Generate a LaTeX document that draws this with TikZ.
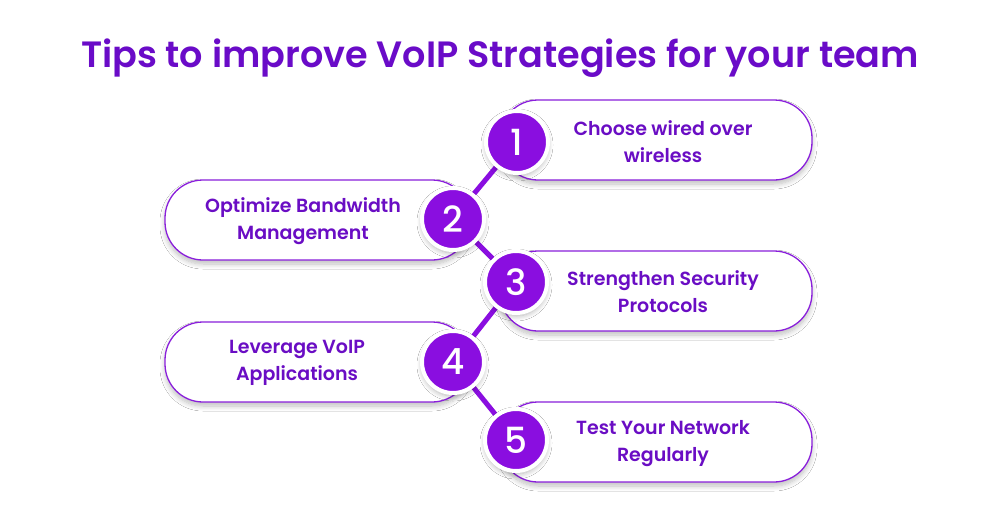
\documentclass[tikz,border=0pt]{standalone}
\usepackage{fontspec}
\setmainfont{Poppins}[BoldFont={Poppins SemiBold}]
\newfontfamily\numfont{Poppins Medium}
\usetikzlibrary{shadows.blur}
\definecolor{titlec}{HTML}{6A0BC8}
\definecolor{circc}{HTML}{8A0EE0}
\definecolor{boxline}{HTML}{8A1FDB}
\definecolor{textc}{HTML}{6A0DC4}
\tikzset{
  tipbox/.style={draw=boxline, line width=1.3pt, fill=white, rounded corners=38pt,
    blur shadow={shadow blur steps=8, shadow xshift=0pt, shadow yshift=-4pt, shadow opacity=25, shadow blur radius=5pt}},
  tiptext/.style={text=textc, font=\bfseries\fontsize{19}{27}\selectfont, align=center},
  numc/.style={circle, fill=circc, draw=white, line width=4pt, minimum size=62pt, inner sep=0pt,
    text=white, font=\numfont\fontsize{36}{36}\selectfont,
    blur shadow={shadow blur steps=8, shadow xshift=0pt, shadow yshift=-3pt, shadow opacity=30, shadow blur radius=5pt}},
  link/.style={draw=circc, line width=5pt}
}
\begin{document}
\begin{tikzpicture}[x=1pt,y=-1pt]
\useasboundingbox[fill=white] (0,0) rectangle (1000,512);
\node[text=titlec, font=\bfseries\fontsize{36.6}{40}\selectfont, anchor=base] (title) at (500,67) {Tips to improve VoIP Strategies for your team};
% boxes
\path[tipbox] (500,100) rectangle (812,180);
\path[tipbox] (165,180) rectangle (470,260);
\path[tipbox] (500,251) rectangle (812,331);
\path[tipbox] (165,322) rectangle (470,402);
\path[tipbox] (500,402) rectangle (812,482);
\node[tiptext] (t1) at (663,142) {Choose wired over\\wireless};
\node[tiptext] (t2) at (303,221) {Optimize Bandwidth\\Management};
\node[tiptext] (t3) at (663,292) {Strengthen Security\\Protocols};
\node[tiptext] (t4) at (297,363) {Leverage VoIP\\Applications};
\node[tiptext] (t5) at (663,444) {Test Your Network\\Regularly};
% circle positions
\coordinate (p1) at (517,142);
\coordinate (p2) at (453,219);
\coordinate (p3) at (516,282);
\coordinate (p4) at (453,362);
\coordinate (p5) at (516,440);
\draw[link] (p1) -- (p2) -- (p3) -- (p4) -- (p5);
\node[numc] (c1) at (p1) {1};
\node[numc] (c2) at (p2) {2};
\node[numc] (c3) at (p3) {3};
\node[numc] (c4) at (p4) {4};
\node[numc] (c5) at (p5) {5};
\end{tikzpicture}
\end{document}
